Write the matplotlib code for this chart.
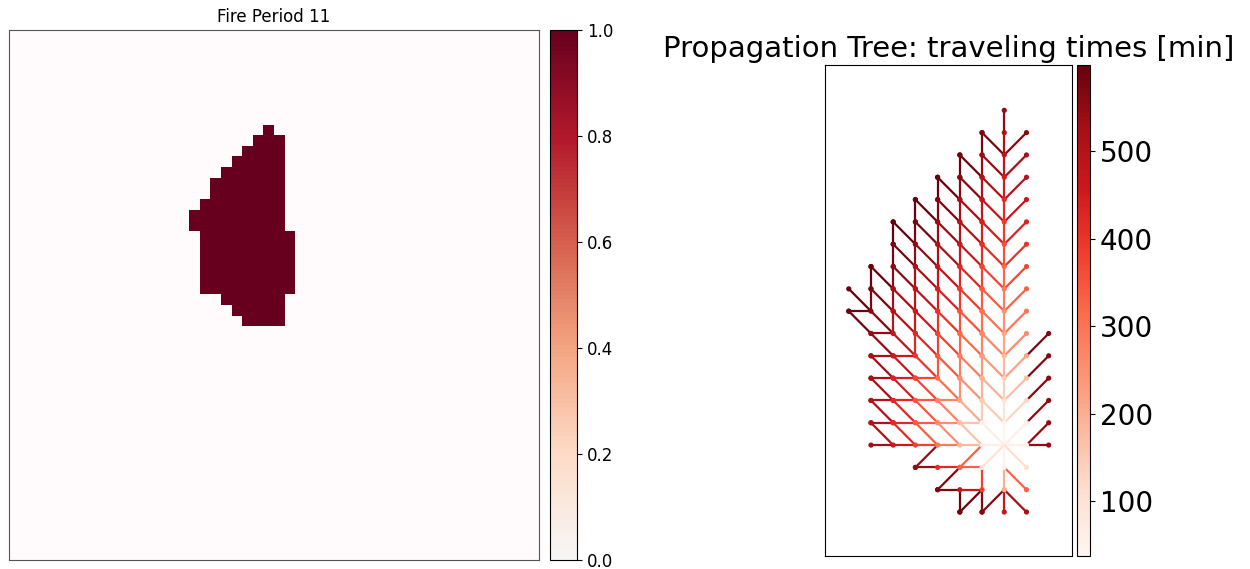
import matplotlib
matplotlib.use("Agg")
import matplotlib.pyplot as plt
import numpy as np
from matplotlib.collections import LineCollection
from matplotlib.colors import ListedColormap, Normalize
from matplotlib.cm import ScalarMappable

# fire scar, one entry per row of the burned patch: (first col, last col)
burn_rows = [(7, 7), (6, 8), (5, 8), (4, 8), (3, 8), (2, 8), (2, 8), (1, 8),
             (0, 8), (0, 8), (1, 9), (1, 9), (1, 9), (1, 9), (1, 9), (1, 9),
             (3, 8), (4, 8), (5, 8)]
grid_size = 50
col_offset = 17
row_offset = 9
period = 11

# arrival time [min] of every burned cell, same order as burn_rows
arrival = [
    [545],
    [575, 510, 560],
    [590, 540, 480, 525],
    [595, 560, 505, 450, 495],
    [598, 570, 525, 475, 420, 465],
    [599, 575, 540, 495, 445, 390, 435],
    [580, 545, 505, 460, 410, 355, 400],
    [595, 555, 515, 470, 425, 375, 320, 365],
    [599, 575, 525, 485, 440, 390, 340, 285, 330],
    [590, 560, 500, 455, 405, 355, 305, 250, 295],
    [545, 480, 425, 375, 320, 270, 215, 260, 570],
    [530, 460, 400, 345, 285, 235, 180, 220, 565],
    [520, 440, 370, 310, 250, 195, 140, 175, 560],
    [510, 425, 345, 275, 210, 150, 95, 125, 555],
    [505, 420, 340, 255, 165, 60, 37, 60, 550],
    [530, 460, 380, 290, 180, 60, 0, 55, 545],
    [540, 420, 330, 100, 50, 110],
    [570, 470, 380, 200, 330],
    [590, 560, 470, 520],
]
ignition = (7, 15)

# messages northwards (col, first dst row, last dst row)
north_spans = [(7, 0, 14), (6, 1, 13), (5, 2, 12), (4, 3, 11), (3, 4, 10),
               (2, 5, 9), (1, 7, 8)]
# messages north-west (dst row, first dst col, last dst col)
northwest_spans = [(1, 6, 6), (2, 5, 6), (3, 4, 6), (4, 3, 6), (5, 2, 6),
                   (6, 2, 6), (7, 1, 6), (8, 0, 6), (9, 0, 6), (10, 1, 6),
                   (11, 1, 6), (12, 1, 6), (13, 1, 6), (14, 1, 6)]
# messages north-east (dst col, first dst row, last dst row)
northeast_spans = [(8, 1, 14), (9, 10, 14)]
# messages westwards (dst row, first dst col, last dst col)
west_spans = [(9, 0, 0), (10, 1, 1), (11, 1, 2), (12, 1, 3), (13, 1, 4),
              (14, 1, 5), (15, 1, 6)]
# remaining messages (src, dst)
other_edges = [((7, 15), (8, 15)), ((8, 15), (9, 15)),
               ((7, 15), (6, 16)), ((7, 15), (7, 16)), ((7, 15), (8, 16)),
               ((7, 16), (7, 17)), ((7, 16), (8, 17)), ((6, 16), (6, 17)),
               ((6, 15), (5, 16)), ((6, 16), (5, 16)), ((5, 16), (4, 16)),
               ((4, 16), (3, 16)), ((4, 15), (3, 16)), ((5, 17), (4, 17)),
               ((5, 16), (4, 17)), ((6, 17), (5, 17)), ((5, 17), (5, 18)),
               ((6, 17), (5, 18)), ((6, 17), (6, 18)), ((7, 17), (6, 18)),
               ((7, 17), (7, 18)), ((7, 17), (8, 18))]

times = {}
for r, (c0, c1) in enumerate(burn_rows):
    for k, c in enumerate(range(c0, c1 + 1)):
        times[(c, r)] = arrival[r][k]

edges = []
for c, r0, r1 in north_spans:
    for r in range(r0, r1 + 1):
        edges.append(((c, r + 1), (c, r)))
for r, c0, c1 in northwest_spans:
    for c in range(c0, c1 + 1):
        edges.append(((c + 1, r + 1), (c, r)))
for c, r0, r1 in northeast_spans:
    for r in range(r0, r1 + 1):
        edges.append(((c - 1, r + 1), (c, r)))
for r, c0, c1 in west_spans:
    for c in range(c0, c1 + 1):
        edges.append(((c + 1, r), (c, r)))
edges += other_edges

edge_t = np.array([times[d] for s, d in edges], dtype=float)

fig = plt.figure(figsize=(12.5, 5.69), dpi=100)

# ---- left: burned cells at this period
scar = np.zeros((grid_size, grid_size))
for r, (c0, c1) in enumerate(burn_rows):
    scar[r + row_offset, c0 + col_offset:c1 + col_offset + 1] = 1

half_rdbu = ListedColormap(plt.cm.RdBu_r(np.linspace(0.5, 1.0, 256)))
half_rdbu.set_bad("#fffbfd")
ax1 = fig.add_axes([0.0069, 0.0158, 0.424, 0.9315])
im = ax1.imshow(np.ma.masked_equal(scar, 0), cmap=half_rdbu, vmin=0, vmax=1,
                interpolation="nearest", aspect="auto")
ax1.set_xticks([])
ax1.set_yticks([])
for s in ax1.spines.values():
    s.set_color("#555555")
ax1.set_title("Fire Period %d" % period, fontsize=12)
cax1 = fig.add_axes([0.44, 0.0158, 0.0216, 0.9315])
cb1 = fig.colorbar(im, cax=cax1)
cb1.set_ticks([0.0, 0.2, 0.4, 0.6, 0.8, 1.0])
cb1.ax.tick_params(labelsize=12)

# ---- right: propagation tree
norm = Normalize(edge_t.min(), edge_t.max())
cmap = plt.cm.Reds
ax2 = fig.add_axes([0.66, 0.02285, 0.1976, 0.8629])
segs = [[s, d] for s, d in edges]
lc = LineCollection(segs, colors=cmap(norm(edge_t)), linewidths=1.6)
ax2.add_collection(lc)
ends = np.array([d for s, d in edges])
ax2.scatter(ends[:, 0], ends[:, 1], s=14, c=cmap(norm(edge_t)), zorder=3, linewidths=0)
ax2.set_xlim(-1.07, 10.05)
ax2.set_ylim(19.97, -2.03)
ax2.set_xticks([])
ax2.set_yticks([])
ax2.set_title("Propagation Tree: traveling times [min]", fontsize=21)
cax2 = fig.add_axes([0.8616, 0.02285, 0.0104, 0.8629])
cb2 = fig.colorbar(ScalarMappable(norm=norm, cmap=cmap), cax=cax2)
cb2.set_ticks([100, 200, 300, 400, 500])
cb2.ax.tick_params(labelsize=20)

fig.savefig("out.png", dpi=100)
